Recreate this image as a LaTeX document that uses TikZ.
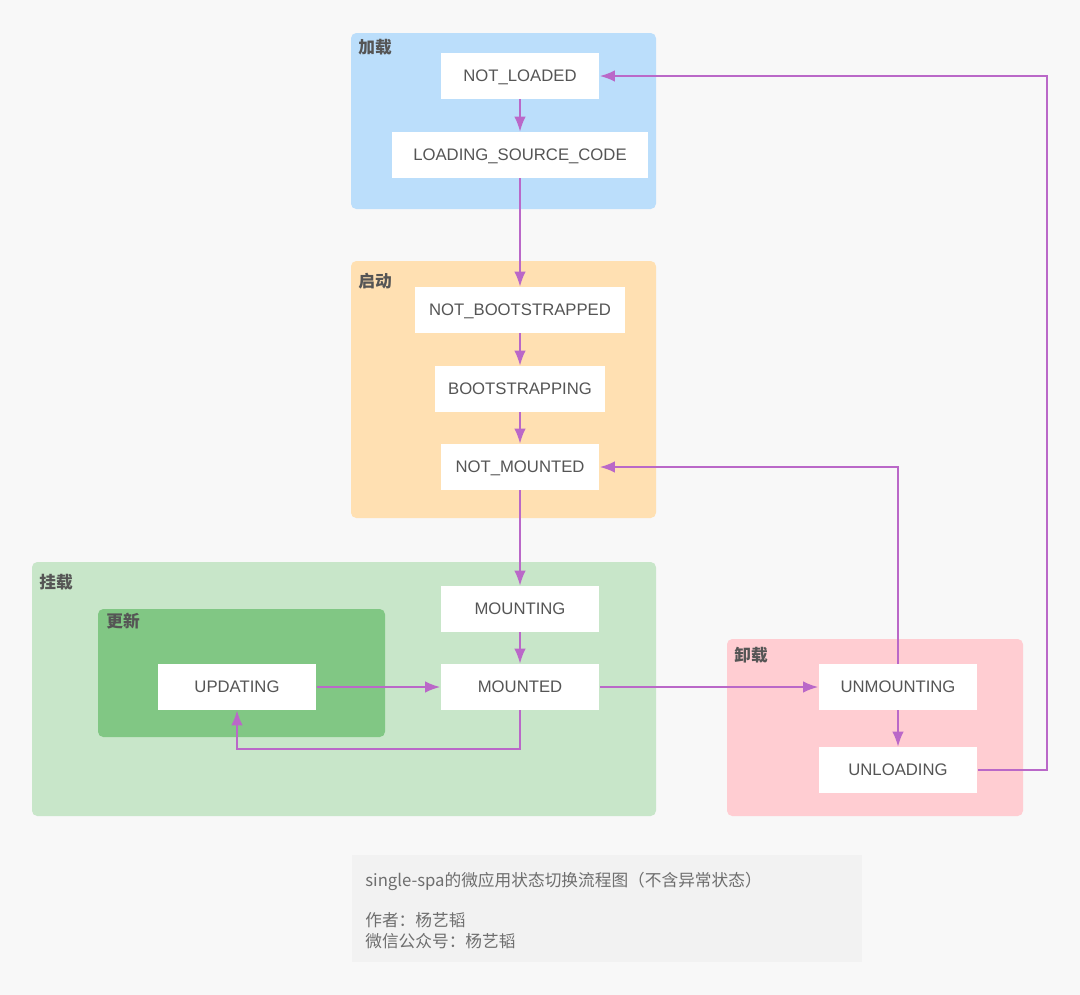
\documentclass[tikz,border=0pt]{standalone}
\usepackage{fontspec}
\setmainfont{Liberation Sans}
\newfontfamily\cjk{Noto Sans CJK SC}
\usetikzlibrary{arrows.meta,positioning}
\definecolor{bgcol}{HTML}{F8F8F8}
\definecolor{loadcol}{HTML}{BBDEFB}
\definecolor{bootcol}{HTML}{FFE0B2}
\definecolor{mountcol}{HTML}{C8E6C9}
\definecolor{updcol}{HTML}{81C784}
\definecolor{unmcol}{HTML}{FFCDD2}
\definecolor{notecol}{HTML}{F2F2F2}
\definecolor{flowcol}{HTML}{BA68C8}
\definecolor{textcol}{HTML}{555555}

\begin{document}
\begin{tikzpicture}[x=0.02cm,y=-0.02cm,>={Latex[length=8.5pt,width=6.5pt]},
    state/.style={fill=white,minimum width=3.18cm,minimum height=0.92cm,inner sep=0pt,
      text height=6.8pt,text depth=0pt,
      text=textcol,font=\fontsize{9.5}{11}\selectfont},
    group/.style={anchor=base west,inner sep=0pt,text=textcol,
      font=\cjk\bfseries\fontsize{9.5}{11}\selectfont},
    note/.style={anchor=base west,inner sep=0pt,text=textcol!85,
      font=\cjk\fontsize{9.5}{11}\selectfont},
    flow/.style={->,draw=flowcol,line width=1pt}]
      \fill[bgcol] (0,0) rectangle (1080,995);
      \useasboundingbox (0,0) rectangle (1080,995);

      % groups
      \fill[loadcol,rounded corners=3] (351,33) rectangle (656,209);
      \fill[bootcol,rounded corners=3] (351,261) rectangle (656,518);
      \fill[mountcol,rounded corners=3] (32,562) rectangle (656,816);
      \fill[updcol,rounded corners=3] (98,609) rectangle (385,737);
      \fill[unmcol,rounded corners=3] (727,639) rectangle (1023,816);
      \fill[notecol] (352,855) rectangle (862,962);

      \node[group] (gload) at (358,53) {加载};
      \node[group] (gboot) at (358,287) {启动};
      \node[group] (gmount) at (39,588) {挂载};
      \node[group] (gupd) at (106,627) {更新};
      \node[group] (gunm) at (734,661) {卸载};

      % states
      \node[state] (nl) at (520,76) {NOT\_LOADED};
      \node[state,minimum width=5.14cm] (lsc) at (520,155) {LOADING\_SOURCE\_CODE};
      \node[state,minimum width=4.22cm] (nb) at (520,310) {NOT\_BOOTSTRAPPED};
      \node[state,minimum width=3.42cm] (bs) at (520,389) {BOOTSTRAPPING};
      \node[state] (nm) at (520,467) {NOT\_MOUNTED};
      \node[state] (mg) at (520,609) {MOUNTING};
      \node[state] (md) at (520,687) {MOUNTED};
      \node[state] (up) at (237,687) {UPDATING};
      \node[state] (um) at (898,687) {UNMOUNTING};
      \node[state] (ul) at (898,770) {UNLOADING};

      \coordinate (loopbend) at (520,749);
      \coordinate (backbend) at (1047,770);

      \path[every edge/.style={draw,flow}]
      (nl) edge (lsc)
      (lsc) edge (nb)
      (nb) edge (bs)
      (bs) edge (nm)
      (nm) edge (mg)
      (mg) edge (md)
      (up) edge (md)
      (md) edge (um)
      (um) edge (ul);

      \draw[flow] (md) -- (loopbend) -| (up);
      \draw[flow] (um) |- (nm);
      \draw[flow] (ul) -- (backbend) |- (nl);

      % note
      \node[note] (cap1) at (365,886) {single-spa的微应用状态切换流程图（不含异常状态）};
      \node[note] (cap2) at (365,926) {作者：杨艺韬};
      \node[note] (cap3) at (365,947) {微信公众号：杨艺韬};

    \end{tikzpicture}
\end{document}
